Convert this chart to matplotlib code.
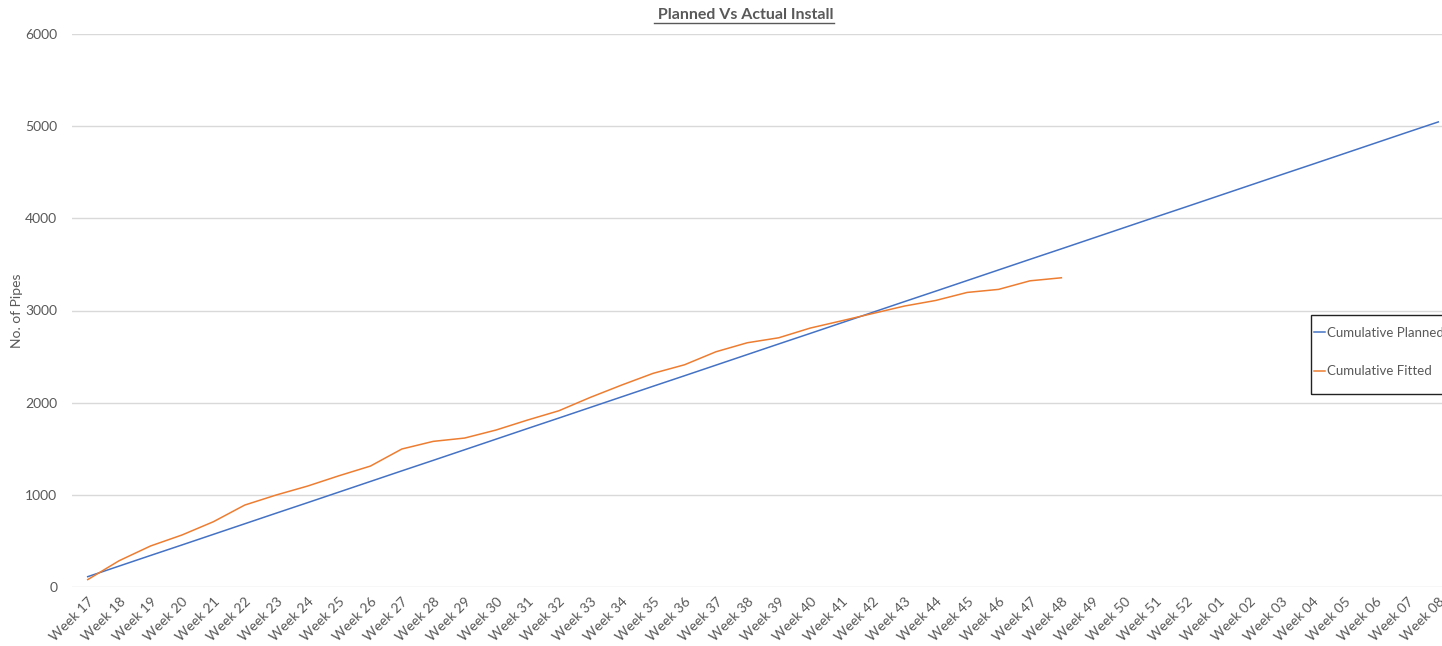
import matplotlib
matplotlib.use("Agg")
import matplotlib.pyplot as plt
from matplotlib.lines import Line2D
from matplotlib.patches import Rectangle

plt.rcParams["font.family"] = ["Lato", "DejaVu Sans"]

# semanas (categorías del eje x)
weeks = [f"Week {w}" for w in range(17, 53)] + [f"Week {w:02d}" for w in range(1, 9)]

# acumulado planificado (lineal en el gráfico)
planned = [112, 227, 342, 456, 571, 686, 801, 915, 1030, 1145,
           1260, 1374, 1489, 1604, 1719, 1833, 1948, 2063, 2178, 2292,
           2407, 2522, 2637, 2751, 2866, 2981, 3096, 3210, 3325, 3440,
           3555, 3669, 3784, 3899, 4014, 4128, 4243, 4358, 4473, 4587,
           4702, 4817, 4932, 5046]

# acumulado instalado (hasta Week 48)
fitted = [80, 285, 445, 564, 708, 889, 998, 1095, 1207, 1312,
          1497, 1580, 1616, 1703, 1811, 1912, 2057, 2191, 2318, 2411,
          2552, 2650, 2704, 2809, 2888, 2968, 3048, 3109, 3196, 3229,
          3322, 3355]

BLUE = "#4472C4"
ORANGE = "#ED7D31"
GREY = "#595959"

W, H = 1442, 646
fig = plt.figure(figsize=(W / 100, H / 100), dpi=100)
ax = fig.add_axes([72 / W, 1 - 587 / H, (1454 - 72) / W, (587 - 34) / H])

x_all = list(range(len(weeks)))
ax.plot(x_all, planned, color=BLUE, lw=1.1, label="Cumulative Planned")
ax.plot(x_all[:len(fitted)], fitted, color=ORANGE, lw=1.1, label="Cumulative Fitted")

ax.set_xlim(-0.5, len(weeks) - 0.5)
ax.set_ylim(0, 6000)
ax.set_yticks(range(0, 6001, 1000))
ax.yaxis.grid(True, color="#D9D9D9", lw=1)
ax.set_axisbelow(True)
for s in ax.spines.values():
    s.set_visible(False)
ax.tick_params(length=0, colors=GREY, labelsize=10)
ax.tick_params(axis="y", pad=10.5)
ax.set_xticks(x_all)
ax.set_xticklabels(weeks, rotation=45, ha="right", rotation_mode="anchor")
ax.tick_params(axis="x", pad=6)

ax.set_ylabel("No. of Pipes", color=GREY, fontsize=10)
ax.yaxis.set_label_coords(-(72 - 23) / (1454 - 72), 0.5)

title = fig.text(744 / W, 1 - 15 / H, " Planned Vs Actual Install", ha="center", va="center",
                 fontsize=11.5, fontweight="bold", color=GREY)
fig.canvas.draw()
bb = title.get_window_extent()
fig.add_artist(Line2D([bb.x0 / W, bb.x1 / W], [(bb.y0 - 1) / H, (bb.y0 - 1) / H],
                      color=GREY, lw=1))

# marco de la leyenda (sale por la derecha, como en el original)
fig.add_artist(Rectangle((1311 / W, 1 - 394 / H), 160 / W, 79 / H,
                         transform=fig.transFigure, fill=False,
                         edgecolor="#222222", lw=1, clip_on=False))
leg = fig.legend(loc="upper left", bbox_to_anchor=(1314 / W, 1 - 327 / H),
                 frameon=False, fontsize=9.5,
                 handlelength=0.85, handletextpad=0.15, labelspacing=2.0,
                 borderpad=0, borderaxespad=0)
for t in leg.get_texts():
    t.set_color(GREY)

fig.savefig("out.png", dpi=100)
